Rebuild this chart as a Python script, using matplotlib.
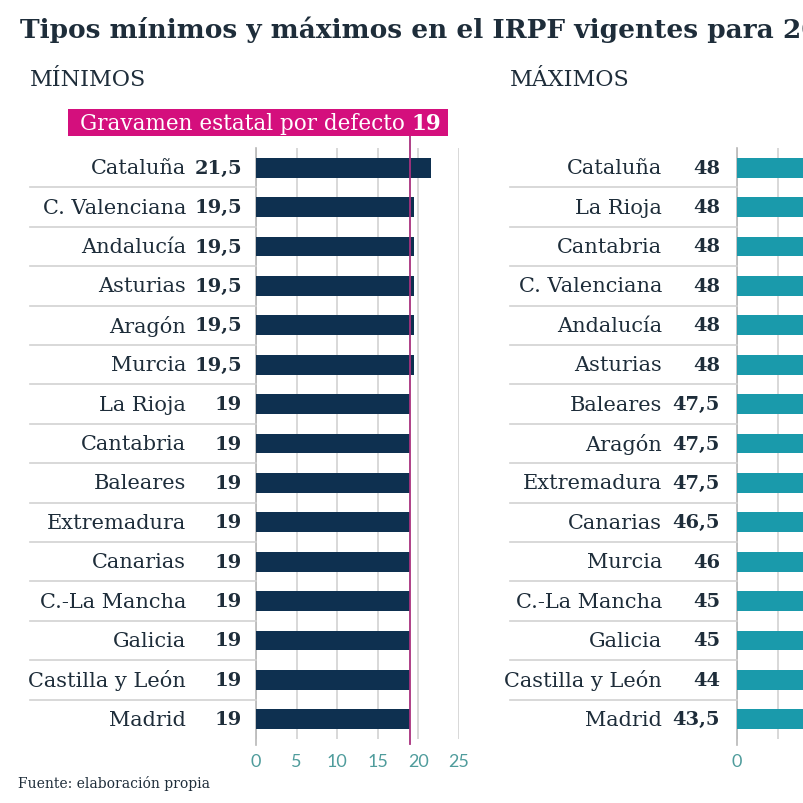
import matplotlib
matplotlib.use("Agg")
import matplotlib.pyplot as plt
from matplotlib.patches import Rectangle
from matplotlib.lines import Line2D
from matplotlib.transforms import blended_transform_factory

# ── Data
min_regions = ["Cataluña", "C. Valenciana", "Andalucía", "Asturias", "Aragón", "Murcia",
               "La Rioja", "Cantabria", "Baleares", "Extremadura", "Canarias",
               "C.-La Mancha", "Galicia", "Castilla y León", "Madrid"]
min_values = [21.5, 19.5, 19.5, 19.5, 19.5, 19.5, 19, 19, 19, 19, 19, 19, 19, 19, 19]

max_regions = ["Cataluña", "La Rioja", "Cantabria", "C. Valenciana", "Andalucía", "Asturias",
               "Baleares", "Aragón", "Extremadura", "Canarias", "Murcia",
               "C.-La Mancha", "Galicia", "Castilla y León", "Madrid"]
max_values = [48, 48, 48, 48, 48, 48, 47.5, 47.5, 47.5, 46.5, 46, 45, 45, 44, 43.5]

state_rate = 19
min_ticks = [0, 5, 10, 15, 20, 25]
min_tick_labels = ["0", "5", "10", "15", "20", "25"]
max_ticks = [0, 5, 10, 15, 20, 25, 30, 35, 40, 45, 50]
max_tick_labels = ["0"] + [""] * 10  # only "0" is visible in the crop

NAVY = "#0e3050"
TEAL = "#1a9aab"
TEXT = "#1e2d3a"
GRID = "#d2d2d2"
MAGENTA = "#d40f7d"
LINE = "#a8307e"
TICK = "#4f9c9c"
SERIF = "DejaVu Serif"

W = H = 804
fig = plt.figure(figsize=(W / 100, H / 100), dpi=100)
fig.patch.set_facecolor("white")


def fx(px):
    return px / W


def fy(py):
    return 1 - py / H


top_px, bot_px = 149, 740
px_per_unit = 203 / 25


def panel(x0_px, xmax, ticks, tick_labels, regions, values, color,
          name_px, value_px, sep_px, title):
    width_px = xmax * px_per_unit
    ax = fig.add_axes([fx(x0_px), fy(bot_px), fx(width_px), (bot_px - top_px) / H])
    n = len(regions)
    y = list(range(n))
    ax.barh(y, values, height=0.5, color=color, zorder=3)
    ax.set_xlim(0, xmax)
    ax.set_ylim(n - 0.5, -0.5)
    ax.set_xticks(ticks, labels=tick_labels)
    ax.set_yticks([])
    ax.grid(axis="x", color=GRID, linewidth=1.2, zorder=0)
    for side in ["top", "right", "bottom"]:
        ax.spines[side].set_visible(False)
    ax.spines["left"].set_color("#b8b8b8")
    ax.spines["left"].set_linewidth(1.2)
    ax.spines["left"].set_bounds(n - 0.35, -0.5)
    ax.tick_params(axis="x", length=0, pad=10, labelcolor=TICK, labelsize=13)
    for lab in ax.get_xticklabels():
        lab.set_fontfamily("Lato")

    tr = blended_transform_factory(fig.transFigure, ax.transData)
    for i, (reg, val) in enumerate(zip(regions, values)):
        ax.text(fx(name_px), i, reg, transform=tr, ha="right", va="center",
                fontsize=15, color=TEXT, family=SERIF)
        label = f"{val:g}".replace(".", ",")
        ax.text(fx(value_px), i, label, transform=tr, ha="right", va="center",
                fontsize=14, color=TEXT, family=SERIF, fontweight="bold")
        if i < n - 1:
            fig.add_artist(Line2D([fx(sep_px), fx(x0_px)], [i + 0.5, i + 0.5],
                                  transform=tr, color=GRID, linewidth=1.2))
    fig.text(fx(sep_px), fy(80), title, ha="left", va="center",
             fontsize=16, color=TEXT, family=SERIF)
    return ax


ax_min = panel(256, 25, min_ticks, min_tick_labels, min_regions, min_values, NAVY,
               186, 242, 30, "MÍNIMOS")
ax_max = panel(737, 50, max_ticks, max_tick_labels, max_regions, max_values, TEAL,
               662, 720, 510, "MÁXIMOS")

# state default rate line and label box
span = bot_px - top_px
ax_min.axvline(state_rate, ymin=-(745 - bot_px) / span, ymax=(bot_px - 137) / span,
               color=LINE, linewidth=1.3, zorder=4, clip_on=False)
fig.add_artist(Rectangle((fx(68), fy(137)), fx(448 - 68), (137 - 110) / H,
                         transform=fig.transFigure, facecolor=MAGENTA, edgecolor="none"))
fig.text(fx(80), fy(124), "Gravamen estatal por defecto", ha="left", va="center",
         fontsize=15.5, color="white", family=SERIF)
fig.text(fx(411), fy(124), "19", ha="left", va="center",
         fontsize=15.5, color="white", family=SERIF, fontweight="bold")

fig.text(fx(20), fy(30), "Tipos mínimos y máximos en el IRPF vigentes para 2019",
         ha="left", va="center", fontsize=19, fontweight="bold", color=TEXT, family=SERIF)
fig.text(fx(18), fy(784), "Fuente: elaboración propia", ha="left", va="center",
         fontsize=10, color=TEXT, family=SERIF)

fig.savefig("out.png", dpi=100)
